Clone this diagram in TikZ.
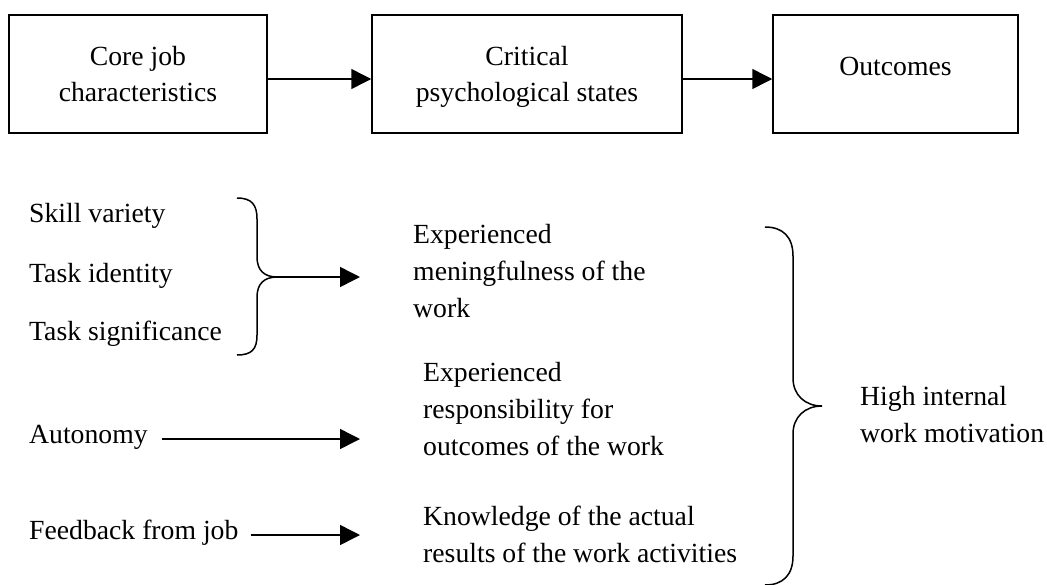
\documentclass[tikz,border=0pt]{standalone}
\usepackage{fontspec}
\setmainfont{Liberation Serif}
\usetikzlibrary{arrows.meta}
\begin{document}
\begin{tikzpicture}[x=1pt,y=-1pt,
  every node/.style={font=\fontsize{27.7}{36.7}\selectfont},
  boxnode/.style={draw,line width=1.5pt,inner sep=0pt,align=center},
  txt/.style={anchor=base west,inner sep=0pt,align=left},
  arr/.style={line width=1.5pt,-{Triangle[length=20pt,width=20pt]}},
  brace/.style={line width=1.5pt}]
\useasboundingbox (0,0) rectangle (1047,584);
% top boxes
\node[boxnode,minimum width=258pt,minimum height=118pt,text depth=0pt] (b1) at (138,74) {Core job\\characteristics};
\node[boxnode,minimum width=310pt,minimum height=118pt,text depth=0pt] (b2) at (527,74) {Critical\\psychological states};
\node[boxnode,minimum width=245pt,minimum height=118pt,text depth=16pt] (b3) at (895.5,74) {Outcomes};
\draw[arr] ([yshift=-5pt]b1.east) -- ([yshift=-5pt]b2.west);
\draw[arr] ([yshift=-5pt]b2.east) -- ([yshift=-5pt]b3.west);
% left labels
\node[txt] (sv) at (29,222) {Skill variety};
\node[txt] (ti) at (29,282) {Task identity};
\node[txt] (ts) at (29,340) {Task significance};
\node[txt] (au) at (29,443) {Autonomy};
\node[txt] (fb) at (29,539) {Feedback from job};
% middle labels (base anchor = last line)
\node[txt] (m1) at (413,317) {Experienced\\meningfulness of the\\work};
\node[txt] (m2) at (423,455) {Experienced\\responsibility for\\outcomes of the work};
\node[txt] (m3) at (423,562) {Knowledge of the actual\\results of the work activities};
% right label
\node[txt] (hi) at (860,442) {High internal\\work motivation};
% left brace
\coordinate (lb) at (277,277);
\draw[brace] (237,198) .. controls (252,198) and (257,205) .. (257,219) -- (257,257)
  .. controls (257,270) and (264,277) .. (lb)
  .. controls (264,277) and (257,284) .. (257,297) -- (257,335)
  .. controls (257,349) and (252,355) .. (237,355);
\coordinate (e1) at (360,277);
\draw[arr] (lb) -- (e1);
% autonomy / feedback arrows
\coordinate (e2) at (360,439);
\coordinate (e3) at (360,535);
\draw[arr] ([xshift=14pt,yshift=4pt]au.base east) -- (e2);
\draw[arr] ([xshift=12pt,yshift=4pt]fb.base east) -- (e3);
% right brace
\coordinate (rb) at (822,406);
\draw[brace] (765,227) .. controls (783,227) and (793,237) .. (793,256) -- (793,378)
  .. controls (793,395) and (805,406) .. (rb)
  .. controls (805,406) and (793,417) .. (793,434) -- (793,556)
  .. controls (793,575) and (783,585) .. (765,585);
\end{tikzpicture}
\end{document}
